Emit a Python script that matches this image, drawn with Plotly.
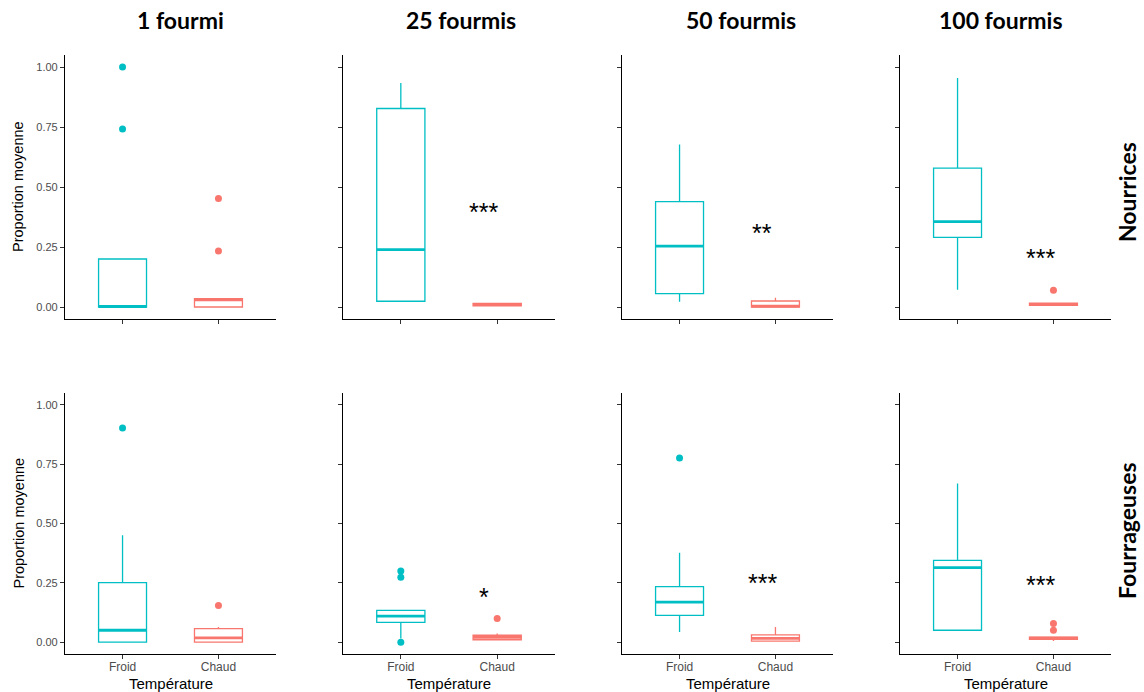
import plotly.graph_objects as go

columns = ["1 fourmi", "25 fourmis", "50 fourmis", "100 fourmis"]
rows = ["Nourrices", "Fourrageuses"]
categories = ["Froid", "Chaud"]

# box statistics, [row][column]
froid_q1 = [[0.0, 0.024, 0.056, 0.29], [0.0, 0.083, 0.113, 0.05]]
froid_med = [[0.002, 0.239, 0.254, 0.356], [0.05, 0.11, 0.169, 0.314]]
froid_q3 = [[0.20, 0.827, 0.439, 0.579], [0.251, 0.134, 0.234, 0.345]]
froid_low = [[0.0, 0.024, 0.022, 0.072], [0.0, 0.015, 0.043, 0.048]]
froid_up = [[0.20, 0.933, 0.677, 0.954], [0.45, 0.134, 0.377, 0.669]]
froid_out = [[[1.0, 0.742], [], [], []], [[0.902], [0.30, 0.273, 0.0], [0.776], []]]

chaud_q1 = [[0.0, 0.005, 0.0, 0.007], [0.0, 0.01, 0.004, 0.012]]
chaud_med = [[0.03, 0.01, 0.004, 0.011], [0.018, 0.02, 0.016, 0.017]]
chaud_q3 = [[0.035, 0.015, 0.025, 0.016], [0.057, 0.029, 0.031, 0.021]]
chaud_low = [[0.0, 0.005, 0.0, 0.005], [0.0, 0.01, 0.004, 0.005]]
chaud_up = [[0.035, 0.015, 0.039, 0.016], [0.064, 0.036, 0.064, 0.021]]
chaud_out = [[[0.452, 0.233], [], [], [0.07]], [[0.154], [0.10], [], [0.079, 0.05]]]

stars = [["", "***", "**", "***"], ["", "*", "***", "***"]]
stars_y = [[None, 0.415, 0.33, 0.224], [None, 0.21, 0.27, 0.26]]

y_ticks = [0.0, 0.25, 0.5, 0.75, 1.0]

COL_FROID = "#00BFC4"
COL_CHAUD = "#F8766D"
BOXW = 0.5

W, H = 1144, 692
col_px = [(65, 276), (343, 555), (622, 833), (900, 1111)]
row_px = [(55, 319), (393, 654)]
title_cx = [180, 461, 741, 1001]
row_label_cy = [192, 531]

fig = go.Figure()
annotations = []

series = [
    (0, COL_FROID, froid_q1, froid_med, froid_q3, froid_low, froid_up, froid_out),
    (1, COL_CHAUD, chaud_q1, chaud_med, chaud_q3, chaud_low, chaud_up, chaud_out),
]

for r in range(2):
    for c in range(4):
        idx = r * 4 + c + 1
        xa = "x" if idx == 1 else f"x{idx}"
        ya = "y" if idx == 1 else f"y{idx}"
        for pos, col, q1, med, q3, lo, up, out in series:
            fig.add_trace(go.Box(
                x=[pos], q1=[q1[r][c]], median=[med[r][c]], q3=[q3[r][c]],
                lowerfence=[lo[r][c]], upperfence=[up[r][c]],
                width=BOXW, whiskerwidth=0, line=dict(color=col, width=1.3),
                fillcolor="rgba(255,255,255,0)", boxpoints=False,
                xaxis=xa, yaxis=ya, showlegend=False, hoverinfo="skip"))
            # thicker median (ggplot style)
            fig.add_trace(go.Scatter(
                x=[pos - BOXW / 2, pos + BOXW / 2], y=[med[r][c], med[r][c]],
                mode="lines", line=dict(color=col, width=2.8),
                xaxis=xa, yaxis=ya, showlegend=False, hoverinfo="skip"))
            if out[r][c]:
                fig.add_trace(go.Scatter(
                    x=[pos] * len(out[r][c]), y=out[r][c], mode="markers",
                    marker=dict(color=col, size=7),
                    xaxis=xa, yaxis=ya, showlegend=False, hoverinfo="skip"))
        if stars[r][c]:
            annotations.append(dict(
                x=0.86, y=stars_y[r][c], xref=xa, yref=ya, text=stars[r][c],
                showarrow=False, font=dict(family="Liberation Sans", size=25, color="black"),
                xanchor="center", yanchor="middle", yshift=-5))

        x0, x1 = col_px[c]
        y0, y1 = row_px[r]
        xkey = "xaxis" if idx == 1 else f"xaxis{idx}"
        ykey = "yaxis" if idx == 1 else f"yaxis{idx}"
        fig.update_layout(**{
            xkey: dict(
                domain=[x0 / W, x1 / W], anchor=ya, range=[-0.6, 1.6],
                tickvals=[0, 1], ticktext=categories if r == 1 else ["", ""],
                showline=True, linecolor="black", linewidth=1.2,
                ticks="outside", ticklen=4, tickcolor="#333333", tickwidth=1,
                ticklabelstandoff=-3,
                showgrid=False, zeroline=False,
                tickfont=dict(family="Liberation Sans", size=12, color="#4D4D4D")),
            ykey: dict(
                domain=[1 - y1 / H, 1 - y0 / H], anchor=xa, range=[-0.05, 1.05],
                tickvals=y_ticks,
                ticktext=[f"{v:.2f}" for v in y_ticks] if c == 0 else [""] * 5,
                showline=True, linecolor="black", linewidth=1.2,
                ticks="outside", ticklen=4, tickcolor="#333333", tickwidth=1,
                showgrid=False, zeroline=False,
                tickfont=dict(family="Liberation Sans", size=11, color="#4D4D4D")),
        })

# column titles
for c, name in enumerate(columns):
    annotations.append(dict(
        x=title_cx[c] / W, y=1 - 20 / H, xref="paper", yref="paper",
        text=f"<b>{name}</b>", showarrow=False,
        font=dict(family="Lato", size=23, color="black"),
        xanchor="center", yanchor="middle"))

# row labels
for r, name in enumerate(rows):
    annotations.append(dict(
        x=1127 / W, y=1 - row_label_cy[r] / H, xref="paper", yref="paper",
        text=f"<b>{name}</b>", showarrow=False, textangle=-90,
        font=dict(family="Lato", size=23, color="black"),
        xanchor="center", yanchor="middle"))

# axis titles
for r in range(2):
    y0, y1 = row_px[r]
    annotations.append(dict(
        x=18 / W, y=1 - (y0 + y1) / 2 / H, xref="paper", yref="paper",
        text="Proportion moyenne", showarrow=False, textangle=-90,
        font=dict(family="Liberation Sans", size=14.5, color="black"),
        xanchor="center", yanchor="middle"))
for c in range(4):
    x0, x1 = col_px[c]
    annotations.append(dict(
        x=(x0 + x1) / 2 / W, y=1 - 683 / H, xref="paper", yref="paper",
        text="Température", showarrow=False,
        font=dict(family="Liberation Sans", size=15, color="black"),
        xanchor="center", yanchor="middle"))

fig.update_layout(
    width=W, height=H, margin=dict(l=0, r=0, t=0, b=0),
    plot_bgcolor="white", paper_bgcolor="white",
    annotations=annotations, showlegend=False)

fig.write_html("out.html", config={"displayModeBar": False},
               post_script="document.body.style.margin='0px';document.body.style.overflow='hidden';")
